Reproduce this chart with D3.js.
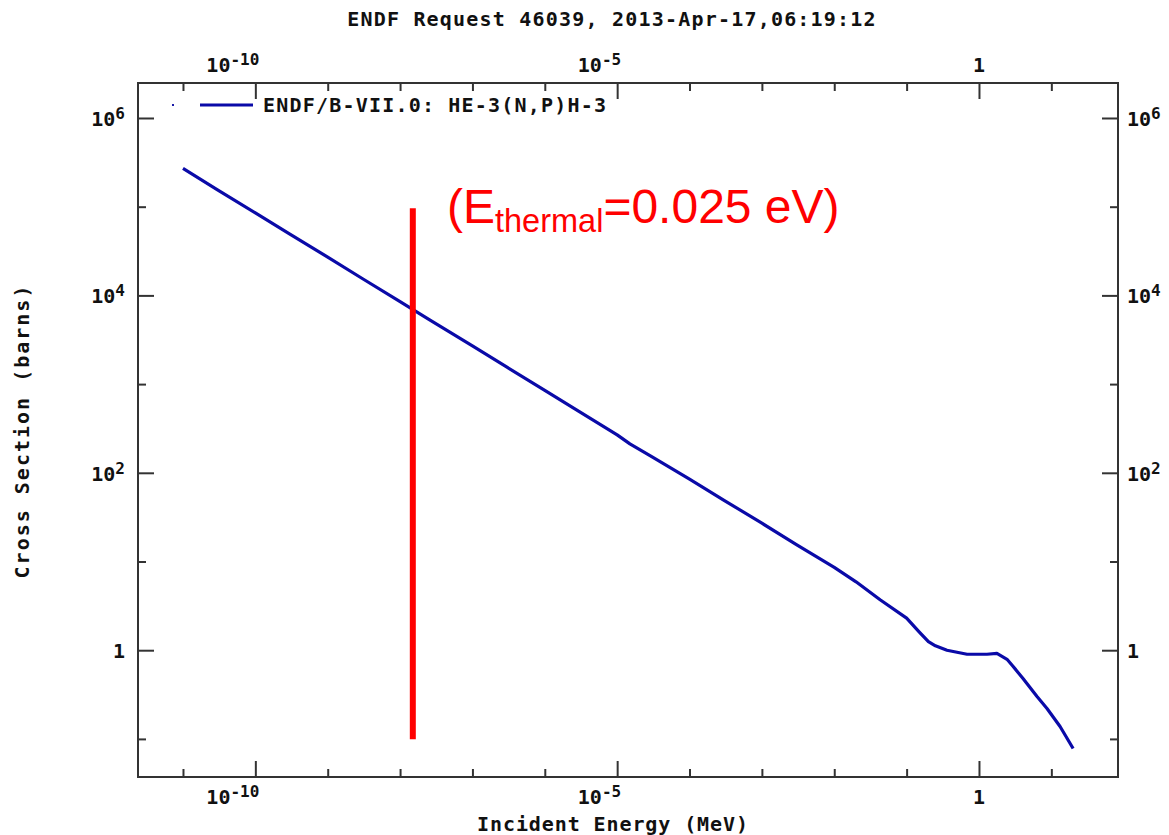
<body style="margin:0;background:#fff"></body>

<script src='https://cdn.jsdelivr.net/npm/d3@7/dist/d3.min.js'></script>
<style>
    svg text {
        font-family: "DejaVu Sans Mono", "Liberation Mono", monospace;
        font-weight: bold;
        fill: #111;
    }
    svg text.note {
        font-family: "Liberation Sans", Arial, sans-serif;
        font-weight: normal;
        fill: #ff0000;
    }
</style>
<script>

    // data (MeV, barns)
    var energy = [1e-11, 3e-11, 1e-10, 3e-10, 1e-9, 3e-9, 1e-8, 2.53e-8, 1e-7, 3e-7, 1e-6, 3e-6,
        1e-5, 1.5e-5, 3e-5, 1e-4, 3e-4, 1e-3, 3e-3, 1e-2, 0.02, 0.043, 0.1, 0.15, 0.2, 0.25, 0.361,
        0.684, 1.29, 1.77, 2.44, 2.95, 4.06, 6.34, 8.71, 13.2, 20];
    var sigma = [2.7e5, 1.55e5, 8.5e4, 4.9e4, 2.7e4, 1.55e4, 8.5e3, 5.33e3, 2.7e3, 1.55e3, 850, 490,
        268, 212, 152, 85, 49, 27, 15.5, 8.6, 5.9, 3.7, 2.3, 1.6, 1.25, 1.12, 1.0,
        0.9, 0.9, 0.92, 0.79, 0.66, 0.48, 0.30, 0.22, 0.138, 0.078];

    var xTicks = [1e-11, 1e-10, 1e-9, 1e-8, 1e-7, 1e-6, 1e-5, 1e-4, 1e-3, 1e-2, 1e-1, 1, 10];
    var xMajor = [-10, -5, 0];
    var yTicks = [1e-1, 1, 10, 100, 1e3, 1e4, 1e5, 1e6];
    var yMajor = [0, 2, 4, 6];

    var title = "ENDF Request 46039, 2013-Apr-17,06:19:12";
    var legendLabel = "ENDF/B-VII.0: HE-3(N,P)H-3";
    var xTitle = "Incident Energy (MeV)";
    var yTitle = "Cross Section (barns)";

    // thermal marker as drawn on the picture
    var thermalE = 1.5e-8;
    var thermalSpan = [9.6e4, 0.099];

    var width = 1169, height = 835;
    var plotL = 138, plotR = 1118, plotT = 83, plotB = 777;

    var x = d3.scaleLog().domain([2.39e-12, 83.4]).range([plotL, plotR]);
    var y = d3.scaleLog().domain([0.0372, 2.48e6]).range([plotB, plotT]);

    var svg = d3.select("body")
        .append("svg")
        .attr("width", width)
        .attr("height", height);

    svg.append("rect").attr("width", width).attr("height", height).attr("fill", "#fff");

    function isMajorX(d) { return xMajor.indexOf(Math.round(Math.log10(d))) >= 0; }
    function isMajorY(d) { return yMajor.indexOf(Math.round(Math.log10(d))) >= 0; }

    function styleAxis(g, vertical, sign, majorFn) {
        g.select(".domain").remove();
        g.selectAll(".tick line")
            .attr("stroke", "#333")
            .attr("stroke-width", 2)
            .attr(vertical ? "x2" : "y2", function (d) { return sign * (majorFn(d) ? 16 : 8); });
        g.selectAll(".tick text").remove();
    }

    svg.append("g").attr("transform", "translate(0," + plotB + ")")
        .call(d3.axisBottom(x).tickValues(xTicks).tickFormat(""))
        .call(function (g) { styleAxis(g, false, -1, isMajorX); });
    svg.append("g").attr("transform", "translate(0," + plotT + ")")
        .call(d3.axisTop(x).tickValues(xTicks).tickFormat(""))
        .call(function (g) { styleAxis(g, false, 1, isMajorX); });
    svg.append("g").attr("transform", "translate(" + plotL + ",0)")
        .call(d3.axisLeft(y).tickValues(yTicks).tickFormat(""))
        .call(function (g) { styleAxis(g, true, 1, isMajorY); });
    svg.append("g").attr("transform", "translate(" + plotR + ",0)")
        .call(d3.axisRight(y).tickValues(yTicks).tickFormat(""))
        .call(function (g) { styleAxis(g, true, -1, isMajorY); });

    // frame
    svg.append("rect")
        .attr("x", plotL).attr("y", plotT)
        .attr("width", plotR - plotL).attr("height", plotB - plotT)
        .attr("fill", "none").attr("stroke", "#333").attr("stroke-width", 2);

    // power-of-ten labels
    function powerLabel(g, p, px, py, anchor) {
        var t = g.append("text")
            .attr("x", px).attr("y", py)
            .attr("text-anchor", anchor)
            .style("font-size", "20px");
        if (p == 0) {
            t.text("1");
            return;
        }
        t.append("tspan").text("10");
        t.append("tspan").attr("dy", -7).style("font-size", "16px").text(p);
    }

    var xLab = xTicks.filter(isMajorX);
    xLab.forEach(function (d) {
        var p = Math.round(Math.log10(d));
        var px = p == 0 ? x(d) + 6 : x(d) + 4;
        powerLabel(svg, p, px, 804, "end");
        powerLabel(svg, p, px, 72, "end");
    });
    var yLab = yTicks.filter(isMajorY);
    yLab.forEach(function (d) {
        var p = Math.round(Math.log10(d));
        powerLabel(svg, p, plotL - 13, y(d) + 8, "end");
        powerLabel(svg, p, plotR + 9, y(d) + 8, "start");
    });

    // titles
    svg.append("text").attr("x", 612).attr("y", 26).attr("text-anchor", "middle")
        .style("font-size", "20px").style("letter-spacing", "1.2px").text(title);
    svg.append("text").attr("x", 613).attr("y", 831).attr("text-anchor", "middle")
        .style("font-size", "20px").style("letter-spacing", "0.9px").text(xTitle);
    svg.append("text").attr("transform", "translate(29,431) rotate(-90)").attr("text-anchor", "middle")
        .style("font-size", "20px").style("letter-spacing", "2px").text(yTitle);

    // legend
    svg.append("rect").attr("x", 172).attr("y", 104).attr("width", 2).attr("height", 2).attr("fill", "#1a1aa8");
    svg.append("line").attr("x1", 200).attr("x2", 253).attr("y1", 105).attr("y2", 105)
        .attr("stroke", "#0a0aa8").attr("stroke-width", 3);
    svg.append("text").attr("x", 263).attr("y", 112)
        .style("font-size", "20px").style("letter-spacing", "1.2px").text(legendLabel);

    // cross section curve
    var pts = energy.map(function (e, i) { return [e, sigma[i]]; });
    var line = d3.line()
        .x(function (d) { return x(d[0]); })
        .y(function (d) { return y(d[1]); });
    svg.append("path")
        .datum(pts)
        .attr("d", line)
        .attr("fill", "none")
        .attr("stroke", "#0a0aa8")
        .attr("stroke-width", 3.2)
        .attr("stroke-linejoin", "round");

    // thermal annotation
    svg.append("line")
        .attr("x1", x(thermalE)).attr("x2", x(thermalE))
        .attr("y1", y(thermalSpan[0])).attr("y2", y(thermalSpan[1]))
        .attr("stroke", "#ff0000").attr("stroke-width", 6);

    var note = svg.append("text").attr("class", "note")
        .attr("x", 447).attr("y", 223)
        .style("font-size", "48px");
    note.append("tspan").text("(E");
    note.append("tspan").attr("dy", 9).style("font-size", "32.5px").text("thermal");
    note.append("tspan").attr("dy", -9).text("=0.025 eV)");

</script>
